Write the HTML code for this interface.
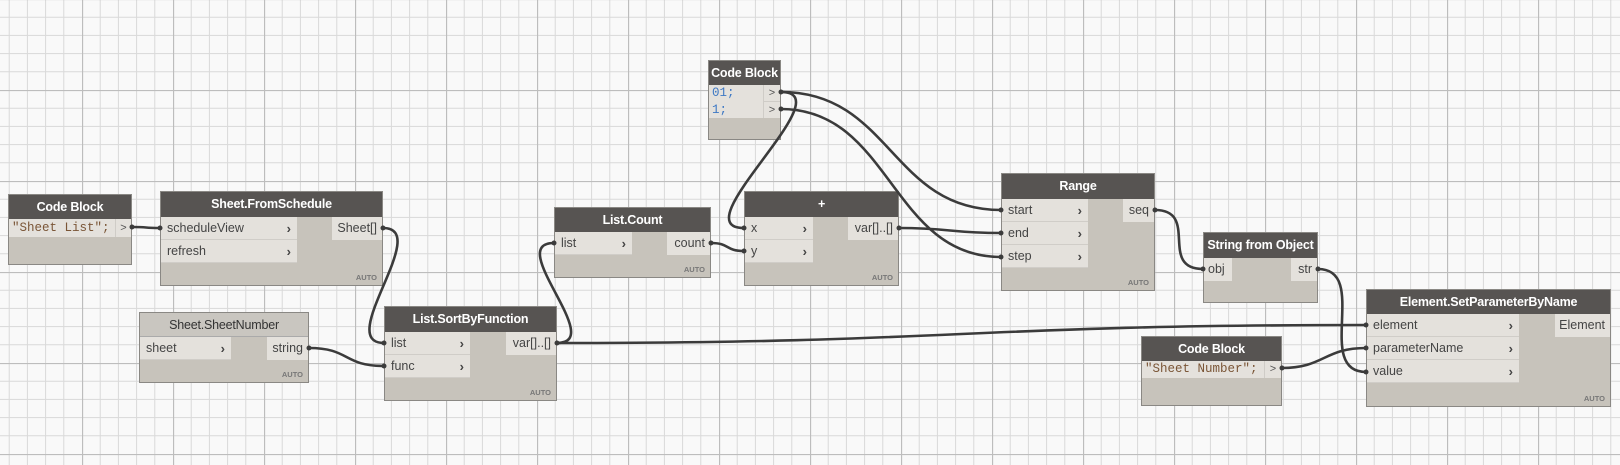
<!DOCTYPE html>
<html><head><meta charset="utf-8"><style>
body{margin:0;width:1620px;height:465px;overflow:hidden;background:#f9f9f9;font-family:"Liberation Sans",sans-serif;}
.n{position:absolute;background:#c7c3bb;border:1px solid #8a8884;box-sizing:border-box;}
.h{position:absolute;left:0;right:0;top:0;background:#575452;color:#fff;font-weight:bold;font-size:12.5px;text-align:center;box-sizing:border-box;white-space:nowrap;overflow:visible;letter-spacing:-0.2px;}
.h.l{background:#c9c6c0;color:#333;font-weight:normal;border-bottom:1px solid #aaa;}
.in{position:absolute;left:0;background:#e4e1dc;font-size:12.5px;color:#444;box-sizing:border-box;padding-left:6px;line-height:23px;height:23px;border-bottom:1px solid #d0cdc8;white-space:nowrap;}
.in b{position:absolute;right:6px;top:0;font-size:13px;color:#444;font-weight:bold;}
.out{position:absolute;right:0;background:#e4e1dc;font-size:12.5px;color:#444;line-height:23px;height:23px;text-align:right;padding-right:5px;box-sizing:border-box;white-space:nowrap;}
.auto{position:absolute;right:5px;bottom:3px;font-size:7.5px;font-weight:bold;color:#777;}
.code{position:absolute;left:0;background:#e4e1dc;font-family:"Liberation Mono",monospace;font-size:12.5px;color:#7a5536;padding-left:3px;box-sizing:border-box;white-space:nowrap;}
.gt{position:absolute;background:#e4e1dc;font-size:11px;color:#555;text-align:center;border-left:1px solid #cfccc7;box-sizing:border-box;}
svg{position:absolute;left:0;top:0;}
</style></head><body>
<svg width="1620" height="465">
<defs>
<pattern id="g" x="82" y="-1" width="91" height="91" patternUnits="userSpaceOnUse">
<g stroke="#d9d9d9" stroke-width="1">
<line x1="18.2" y1="0" x2="18.2" y2="91"/><line x1="36.4" y1="0" x2="36.4" y2="91"/><line x1="54.6" y1="0" x2="54.6" y2="91"/><line x1="72.8" y1="0" x2="72.8" y2="91"/>
<line y1="18.2" x1="0" y2="18.2" x2="91"/><line y1="36.4" x1="0" y2="36.4" x2="91"/><line y1="54.6" x1="0" y2="54.6" x2="91"/><line y1="72.8" x1="0" y2="72.8" x2="91"/>
</g>
<g stroke="#bdbdbd" stroke-width="1.3"><line x1="0.5" y1="0" x2="0.5" y2="91"/><line x1="0" y1="0.5" x2="91" y2="0.5"/></g>
</pattern>
</defs>
<rect width="1620" height="465" fill="url(#g)"/>
</svg>

<div class="n" style="left:8px;top:194px;width:124px;height:71px;">
<div class="h" style="height:24px;line-height:24px;">Code Block</div>
<div class="code" style="top:24px;width:106px;height:18px;line-height:18px;">"Sheet List";</div>
<div class="gt" style="left:106px;top:24px;width:16px;height:18px;line-height:18px;">&gt;</div>
</div>

<div class="n" style="left:160px;top:191px;width:223px;height:95px;">
<div class="h" style="height:25px;line-height:25px;">Sheet.FromSchedule</div>
<div class="in" style="top:25px;width:136px;">scheduleView<b>›</b></div>
<div class="in" style="top:48px;width:136px;">refresh<b>›</b></div>
<div class="out" style="top:25px;width:50px;">Sheet[]</div>
<div class="auto">AUTO</div>
</div>

<div class="n" style="left:139px;top:312px;width:170px;height:71px;">
<div class="h l" style="height:24px;line-height:24px;">Sheet.SheetNumber</div>
<div class="in" style="top:24px;width:91px;">sheet<b>›</b></div>
<div class="out" style="top:24px;width:41px;">string</div>
<div class="auto">AUTO</div>
</div>

<div class="n" style="left:384px;top:306px;width:173px;height:95px;">
<div class="h" style="height:25px;line-height:25px;">List.SortByFunction</div>
<div class="in" style="top:25px;width:85px;">list<b>›</b></div>
<div class="in" style="top:48px;width:85px;">func<b>›</b></div>
<div class="out" style="top:25px;width:50px;">var[]..[]</div>
<div class="auto">AUTO</div>
</div>

<div class="n" style="left:554px;top:207px;width:157px;height:71px;">
<div class="h" style="height:24px;line-height:24px;">List.Count</div>
<div class="in" style="top:24px;width:77px;">list<b>›</b></div>
<div class="out" style="top:24px;width:43px;">count</div>
<div class="auto">AUTO</div>
</div>

<div class="n" style="left:708px;top:60px;width:73px;height:80px;">
<div class="h" style="height:24px;line-height:24px;">Code Block</div>
<div class="code" style="top:24px;width:54px;height:17px;line-height:17px;color:#3d78c4;">01;</div>
<div class="code" style="top:41px;width:54px;height:16px;line-height:16px;color:#3d78c4;">1;</div>
<div class="gt" style="left:54px;top:24px;width:17px;height:17px;line-height:17px;border-bottom:1px solid #cfccc7;">&gt;</div>
<div class="gt" style="left:54px;top:41px;width:17px;height:16px;line-height:16px;">&gt;</div>
</div>

<div class="n" style="left:744px;top:191px;width:155px;height:95px;">
<div class="h" style="height:25px;line-height:25px;">+</div>
<div class="in" style="top:25px;width:68px;">x<b>›</b></div>
<div class="in" style="top:48px;width:68px;">y<b>›</b></div>
<div class="out" style="top:25px;width:50px;">var[]..[]</div>
<div class="auto">AUTO</div>
</div>

<div class="n" style="left:1001px;top:173px;width:154px;height:118px;">
<div class="h" style="height:25px;line-height:25px;">Range</div>
<div class="in" style="top:25px;width:86px;">start<b>›</b></div>
<div class="in" style="top:48px;width:86px;">end<b>›</b></div>
<div class="in" style="top:71px;width:86px;">step<b>›</b></div>
<div class="out" style="top:25px;width:31px;">seq</div>
<div class="auto">AUTO</div>
</div>

<div class="n" style="left:1203px;top:232px;width:115px;height:71px;">
<div class="h" style="height:25px;line-height:25px;">String from Object</div>
<div class="in" style="top:25px;width:28px;padding-left:4px;border:none;">obj</div>
<div class="out" style="top:25px;width:26px;">str</div>
</div>

<div class="n" style="left:1141px;top:336px;width:141px;height:70px;">
<div class="h" style="height:24px;line-height:24px;">Code Block</div>
<div class="code" style="top:24px;width:122px;height:17px;line-height:17px;">"Sheet Number";</div>
<div class="gt" style="left:122px;top:24px;width:17px;height:17px;line-height:17px;">&gt;</div>
</div>

<div class="n" style="left:1366px;top:289px;width:245px;height:118px;">
<div class="h" style="height:24px;line-height:24px;">Element.SetParameterByName</div>
<div class="in" style="top:24px;width:152px;">element<b>›</b></div>
<div class="in" style="top:47px;width:152px;">parameterName<b>›</b></div>
<div class="in" style="top:70px;width:152px;">value<b>›</b></div>
<div class="out" style="top:24px;width:55px;">Element</div>
<div class="auto">AUTO</div>
</div>

<svg width="1620" height="465" style="pointer-events:none">
<g fill="none" stroke="#3b3b3b" stroke-width="2.6" stroke-linecap="round">
<path d="M132,227 C150,227 142,228 160,228"/>
<path d="M383,228 C433,228 334,343 384,343"/>
<path d="M309,348 C350,348 343,366 384,366"/>
<path d="M557,343 C607,343 504,243 554,243"/>
<path d="M557,343 C960,343 963,325 1366,325"/>
<path d="M711,243 C730,243 725,251 744,251"/>
<path d="M781,92 C845,92 680,228 744,228"/>
<path d="M781,92 C891,92 891,210 1001,210"/>
<path d="M781,109 C891,109 891,257 1001,257"/>
<path d="M899,228 C950,228 950,233 1001,233"/>
<path d="M1155,210 C1200,210 1158,269 1203,269"/>
<path d="M1318,269 C1370,269 1314,372 1366,372"/>
<path d="M1282,368 C1324,368 1324,348 1366,348"/>
</g>
<g fill="#3b3b3b">
<circle cx="132" cy="227" r="2.5"/><circle cx="160" cy="228" r="2.5"/><circle cx="383" cy="228" r="2.5"/><circle cx="384" cy="343" r="2.5"/>
<circle cx="309" cy="348" r="2.5"/><circle cx="384" cy="366" r="2.5"/><circle cx="557" cy="343" r="2.5"/><circle cx="554" cy="243" r="2.5"/>
<circle cx="1366" cy="325" r="2.5"/><circle cx="711" cy="243" r="2.5"/><circle cx="744" cy="251" r="2.5"/><circle cx="781" cy="92" r="2.5"/>
<circle cx="781" cy="109" r="2.5"/><circle cx="744" cy="228" r="2.5"/><circle cx="1001" cy="210" r="2.5"/><circle cx="1001" cy="257" r="2.5"/>
<circle cx="899" cy="228" r="2.5"/><circle cx="1001" cy="233" r="2.5"/><circle cx="1155" cy="210" r="2.5"/><circle cx="1203" cy="269" r="2.5"/>
<circle cx="1318" cy="269" r="2.5"/><circle cx="1366" cy="372" r="2.5"/><circle cx="1282" cy="368" r="2.5"/><circle cx="1366" cy="348" r="2.5"/>
</g>
</svg>
</body></html>
